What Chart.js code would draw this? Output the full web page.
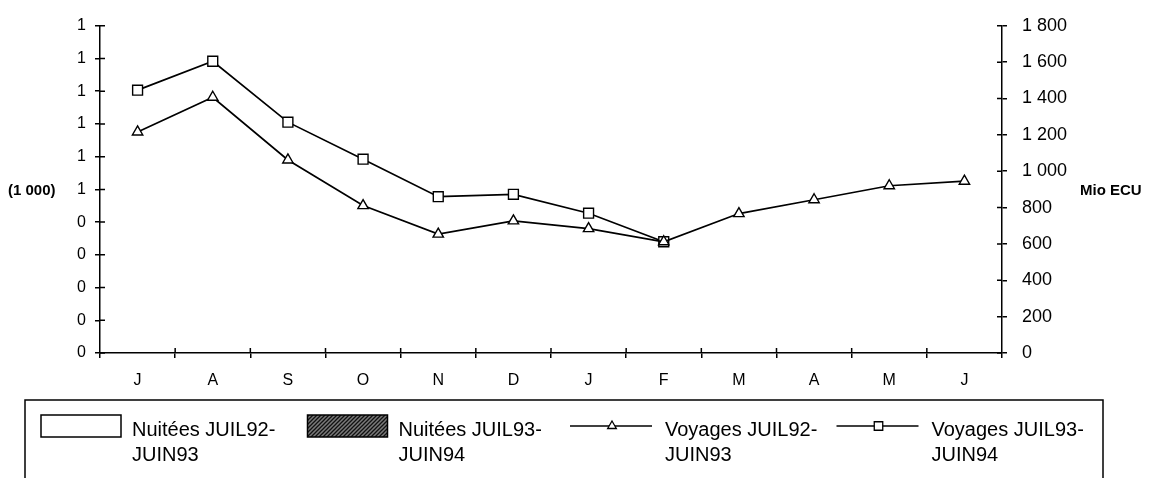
<!DOCTYPE html>
<html>
<head>
<meta charset="utf-8">
<script src="https://cdn.jsdelivr.net/npm/chart.js@4.4.1/dist/chart.umd.min.js"></script>
<style>
  html, body { margin: 0; padding: 0; background: #fff; }
  #wrap { width: 1156px; height: 478px; }
</style>
</head>
<body>
<div id="wrap"><canvas id="chart" width="1156" height="478"></canvas></div>
<script>
const months = ['J', 'A', 'S', 'O', 'N', 'D', 'J', 'F', 'M', 'A', 'M', 'J'];
const seriesLabels = ['Nuitées JUIL92-JUIN93', 'Nuitées JUIL93-JUIN94', 'Voyages JUIL92-JUIN93', 'Voyages JUIL93-JUIN94'];

// nuitées (1 000) - no bars visible in the source
const nuitees9293 = [null, null, null, null, null, null, null, null, null, null, null, null];
const nuitees9394 = [null, null, null, null, null, null, null, null, null, null, null, null];
// voyages (Mio ECU)
const voyages9293 = [1216, 1407, 1062, 811, 654, 727, 684, 612, 767, 843, 920, 945];
const voyages9394 = [1446, 1605, 1270, 1066, 860, 873, 769, 612, null, null, null, null];

const leftTickLabels = ['0', '0', '0', '0', '0', '1', '1', '1', '1', '1', '1'];
const rightTickLabels = ['0', '200', '400', '600', '800', '1 000', '1 200', '1 400', '1 600', '1 800'];

const FONT = "'Liberation Sans', Arial, sans-serif";

function makeHatch() {
    const c = document.createElement('canvas');
    c.width = 4; c.height = 4;
    const g = c.getContext('2d');
    g.fillStyle = '#7a7a7a';
    g.fillRect(0, 0, 4, 4);
    g.strokeStyle = '#111';
    g.lineWidth = 1.3;
    g.beginPath();
    g.moveTo(0, 4); g.lineTo(4, 0);
    g.moveTo(-1, 1); g.lineTo(1, -1);
    g.moveTo(3, 5); g.lineTo(5, 3);
    g.stroke();
    return g.createPattern(c, 'repeat');
}
const hatch = makeHatch();

// tick marks cross the axis lines in the source
const innerTicks = {
    id: 'innerTicks',
    afterDraw(chart) {
        const { ctx, scales: { x, yL, yR } } = chart;
        ctx.save();
        ctx.strokeStyle = '#000';
        ctx.lineWidth = 1.5;
        ctx.beginPath();
        yL.ticks.forEach((t, i) => {
            const y = yL.getPixelForTick(i);
            ctx.moveTo(yL.right, y); ctx.lineTo(yL.right + 5, y);
        });
        yR.ticks.forEach((t, i) => {
            const y = yR.getPixelForTick(i);
            ctx.moveTo(yR.left, y); ctx.lineTo(yR.left - 5, y);
        });
        const half = (x.getPixelForValue(1) - x.getPixelForValue(0)) / 2;
        for (let i = 0; i < x.ticks.length - 1; i++) {
            const px = x.getPixelForTick(i) + half;
            ctx.moveTo(px, x.top); ctx.lineTo(px, x.top - 5);
        }
        ctx.stroke();
        ctx.restore();
    }
};

const axisTitles = {
    id: 'axisTitles',
    afterDraw(chart) {
        const { ctx, chartArea, scales: { yR } } = chart;
        const midY = (chartArea.top + chartArea.bottom) / 2;
        ctx.save();
        ctx.fillStyle = '#000';
        ctx.font = 'bold 15px ' + FONT;
        ctx.textBaseline = 'middle';
        ctx.textAlign = 'left';
        ctx.fillText('(1 000)', 8, midY + 1);
        ctx.fillText('Mio ECU', yR.left + 78, midY + 1);
        ctx.restore();
    }
};

const boxLegend = {
    id: 'boxLegend',
    afterDraw(chart) {
        const ctx = chart.ctx;
        ctx.save();
        ctx.strokeStyle = '#000';
        ctx.lineWidth = 1.5;
        ctx.strokeRect(25, 400, 1078, 120);
        ctx.font = '20px ' + FONT;
        ctx.textBaseline = 'middle';
        ctx.textAlign = 'left';
        ctx.fillStyle = '#000';
        chart.data.datasets.forEach((ds, i) => {
            const x0 = 41 + i * 266.5;
            const cy = 426;
            if (ds.type === 'bar') {
                ctx.fillStyle = ds.backgroundColor;
                ctx.fillRect(x0, cy - 11, 80, 22);
                ctx.lineWidth = 1.5;
                ctx.strokeStyle = '#000';
                ctx.strokeRect(x0, cy - 11, 80, 22);
            } else {
                ctx.strokeStyle = '#000';
                ctx.lineWidth = 1.3;
                ctx.beginPath();
                ctx.moveTo(x0 - 4, cy); ctx.lineTo(x0 + 78, cy);
                ctx.stroke();
                ctx.fillStyle = '#fff';
                Chart.helpers.drawPoint(ctx, {
                    pointStyle: ds.pointStyle, radius: ds.pointStyle === 'rect' ? 6 : 5,
                    borderWidth: 1.3, rotation: 0
                }, x0 + 38, cy);
            }
            ctx.fillStyle = '#000';
            const lines = ds.label.split(/(?<=-)/);
            lines.forEach((ln, k) => ctx.fillText(ln, x0 + 91, 430 + k * 25));
        });
        ctx.restore();
    }
};

const axisStyle = {
    grid: { display: true, drawOnChartArea: false, drawTicks: true, tickLength: 5, color: '#000', lineWidth: 1.5 },
    border: { display: true, color: '#000', width: 1.5 }
};

new Chart(document.getElementById('chart'), {
    type: 'bar',
    data: {
        labels: months,
        datasets: [
            { type: 'bar', label: seriesLabels[0], data: nuitees9293, yAxisID: 'yL',
              backgroundColor: '#fff', borderColor: '#000', borderWidth: 1 },
            { type: 'bar', label: seriesLabels[1], data: nuitees9394, yAxisID: 'yL',
              backgroundColor: hatch, borderColor: '#000', borderWidth: 1 },
            { type: 'line', label: seriesLabels[2], data: voyages9293, yAxisID: 'yR',
              borderColor: '#000', borderWidth: 1.7, tension: 0,
              pointStyle: 'triangle', pointRadius: 6, pointBackgroundColor: '#fff',
              pointBorderColor: '#000', pointBorderWidth: 1.4 },
            { type: 'line', label: seriesLabels[3], data: voyages9394, yAxisID: 'yR',
              borderColor: '#000', borderWidth: 1.7, tension: 0,
              pointStyle: 'rect', pointRadius: 7, pointBackgroundColor: '#fff',
              pointBorderColor: '#000', pointBorderWidth: 1.4 }
        ]
    },
    options: {
        responsive: false,
        animation: false,
        devicePixelRatio: 1,
        layout: { padding: { top: 23, left: 0, right: 0, bottom: 0 } },
        plugins: { legend: { display: false }, tooltip: { enabled: false } },
        scales: {
            x: {
                offset: true,
                ...axisStyle,
                grid: { ...axisStyle.grid, offset: true },
                ticks: { color: '#000', font: { family: FONT, size: 16 }, padding: 13, maxRotation: 0, autoSkip: false },
                afterFit(s) { s.height = 125; }
            },
            yL: {
                position: 'left',
                min: 0, max: 1,
                ...axisStyle,
                ticks: { stepSize: 0.1, color: '#000', font: { family: FONT, size: 16 }, padding: 9,
                         callback: (v, i) => leftTickLabels[i] },
                afterFit(s) { s.width = 100; }
            },
            yR: {
                position: 'right',
                min: 0, max: 1800,
                ...axisStyle,
                ticks: { stepSize: 200, color: '#000', font: { family: FONT, size: 18 }, padding: 15,
                         callback: (v, i) => rightTickLabels[i] },
                afterFit(s) { s.width = 154; }
            }
        }
    },
    plugins: [innerTicks, axisTitles, boxLegend]
});
</script>
</body>
</html>
